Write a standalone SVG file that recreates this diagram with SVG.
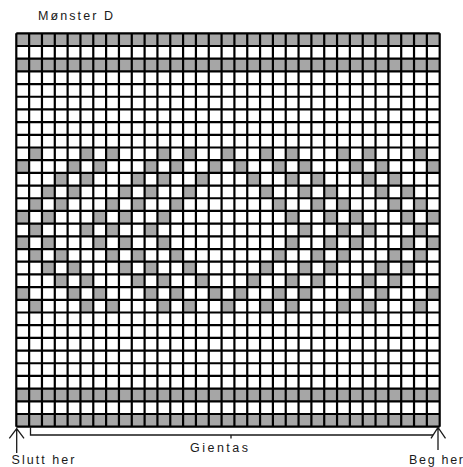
<svg xmlns="http://www.w3.org/2000/svg" xmlns:xlink="http://www.w3.org/1999/xlink" width="463" height="467" viewBox="0 0 463 467">
<style>
.t{font-family:"Liberation Sans",Arial,sans-serif;font-size:12.5px;fill:#1a1a1a}
.g{fill:#a6a6a6}
.ln{fill:none;stroke:#000;stroke-width:2.2}
.ar{fill:none;stroke:#1a1a1a;stroke-width:1.3}
</style>
<defs>
<g id="r10"><rect x="1" width="1" height="1"/><rect x="5" width="1" height="1"/><rect x="7" width="1" height="1"/><rect x="11" width="1" height="1"/><rect x="13" width="1" height="1"/><rect x="16" width="1" height="1"/><rect x="19" width="1" height="1"/><rect x="21" width="1" height="1"/><rect x="25" width="1" height="1"/><rect x="27" width="1" height="1"/><rect x="31" width="1" height="1"/></g>
<g id="r11"><rect x="0" width="1" height="1"/><rect x="4" width="1" height="1"/><rect x="6" width="1" height="1"/><rect x="10" width="1" height="1"/><rect x="12" width="1" height="1"/><rect x="15" width="1" height="1"/><rect x="17" width="1" height="1"/><rect x="20" width="1" height="1"/><rect x="22" width="1" height="1"/><rect x="26" width="1" height="1"/><rect x="28" width="1" height="1"/><rect x="32" width="1" height="1"/></g>
<g id="r12"><rect x="3" width="1" height="1"/><rect x="5" width="1" height="1"/><rect x="9" width="1" height="1"/><rect x="11" width="1" height="1"/><rect x="14" width="1" height="1"/><rect x="18" width="1" height="1"/><rect x="21" width="1" height="1"/><rect x="23" width="1" height="1"/><rect x="27" width="1" height="1"/><rect x="29" width="1" height="1"/></g>
<g id="r13"><rect x="2" width="1" height="1"/><rect x="4" width="1" height="1"/><rect x="8" width="1" height="1"/><rect x="10" width="1" height="1"/><rect x="13" width="1" height="1"/><rect x="19" width="1" height="1"/><rect x="22" width="1" height="1"/><rect x="24" width="1" height="1"/><rect x="28" width="1" height="1"/><rect x="30" width="1" height="1"/></g>
<g id="r14"><rect x="1" width="1" height="1"/><rect x="3" width="1" height="1"/><rect x="7" width="1" height="1"/><rect x="9" width="1" height="1"/><rect x="12" width="1" height="1"/><rect x="20" width="1" height="1"/><rect x="23" width="1" height="1"/><rect x="25" width="1" height="1"/><rect x="29" width="1" height="1"/><rect x="31" width="1" height="1"/></g>
<g id="r15"><rect x="0" width="1" height="1"/><rect x="2" width="1" height="1"/><rect x="6" width="1" height="1"/><rect x="8" width="1" height="1"/><rect x="11" width="1" height="1"/><rect x="21" width="1" height="1"/><rect x="24" width="1" height="1"/><rect x="26" width="1" height="1"/><rect x="30" width="1" height="1"/><rect x="32" width="1" height="1"/></g>
<g id="r16"><rect x="1" width="1" height="1"/><rect x="5" width="1" height="1"/><rect x="7" width="1" height="1"/><rect x="10" width="1" height="1"/><rect x="22" width="1" height="1"/><rect x="25" width="1" height="1"/><rect x="27" width="1" height="1"/><rect x="31" width="1" height="1"/></g>
</defs>
<rect width="463" height="467" fill="#fff"/>
<g id="chart" transform="translate(16.3,33.3) scale(12.83,12.69)">
<rect width="33" height="31" fill="#fff"/>
<g class="g">
<rect x="0" y="0" width="33" height="1"/>
<rect x="0" y="2" width="33" height="1"/>
<rect x="0" y="28" width="33" height="1"/>
<rect x="0" y="30" width="33" height="1"/>
<use xlink:href="#r10" y="9"/>
<use xlink:href="#r11" y="10"/>
<use xlink:href="#r12" y="11"/>
<use xlink:href="#r13" y="12"/>
<use xlink:href="#r14" y="13"/>
<use xlink:href="#r15" y="14"/>
<use xlink:href="#r16" y="15"/>
<use xlink:href="#r15" y="16"/>
<use xlink:href="#r14" y="17"/>
<use xlink:href="#r13" y="18"/>
<use xlink:href="#r12" y="19"/>
<use xlink:href="#r11" y="20"/>
<use xlink:href="#r10" y="21"/>
</g>
<path class="ln" vector-effect="non-scaling-stroke" d="M0 0V31M1 0V31M2 0V31M3 0V31M4 0V31M5 0V31M6 0V31M7 0V31M8 0V31M9 0V31M10 0V31M11 0V31M12 0V31M13 0V31M14 0V31M15 0V31M16 0V31M17 0V31M18 0V31M19 0V31M20 0V31M21 0V31M22 0V31M23 0V31M24 0V31M25 0V31M26 0V31M27 0V31M28 0V31M29 0V31M30 0V31M31 0V31M32 0V31M33 0V31M0 0H33M0 1H33M0 2H33M0 3H33M0 4H33M0 5H33M0 6H33M0 7H33M0 8H33M0 9H33M0 10H33M0 11H33M0 12H33M0 13H33M0 14H33M0 15H33M0 16H33M0 17H33M0 18H33M0 19H33M0 20H33M0 21H33M0 22H33M0 23H33M0 24H33M0 25H33M0 26H33M0 27H33M0 28H33M0 29H33M0 30H33M0 31H33"/>
</g>
<g id="connectors">
<path class="ar" d="M16.7 453V428.5M9.3 438.3L16.7 428.5L24 438.3"/>
<path class="ar" d="M438 450V427.5M431 438.3L438 427.5L445.5 438.3"/>
<path class="ar" d="M30.5 427V435H433M231 435V438.5"/>
</g>
<g id="labels">
<text class="t" x="38" y="20.3" textLength="75">Mønster D</text>
<text class="t" x="11.5" y="464" textLength="63">Slutt her</text>
<text class="t" x="190" y="451.7" textLength="58">Gientas</text>
<text class="t" x="409" y="463.5" textLength="54">Beg her</text>
</g>
</svg>
